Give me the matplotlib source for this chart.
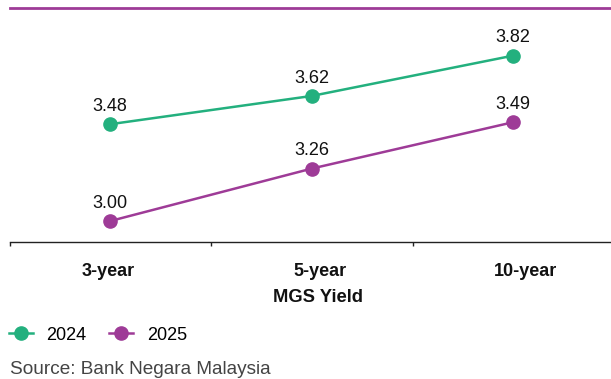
import matplotlib
matplotlib.use("Agg")
import matplotlib.pyplot as plt
from matplotlib.lines import Line2D
from matplotlib.transforms import blended_transform_factory

plt.rcParams['font.family'] = ['Liberation Sans', 'DejaVu Sans']

tenors = ["3-year", "5-year", "10-year"]
years = ["2024", "2025"]
yield_2024 = [3.48, 3.62, 3.82]
yield_2025 = [3.00, 3.26, 3.49]

GREEN = "#23b07e"
PURPLE = "#9e3b97"
INK = "#111111"

W, H = 611, 379
fig = plt.figure(figsize=(W / 100, H / 100), dpi=100)
ax_left, ax_top, ax_bottom = 9.5, 8.4, 242
ax = fig.add_axes([ax_left / W, 1 - ax_bottom / H, (W - ax_left) / W, (ax_bottom - ax_top) / H])

x = list(range(len(tenors)))
for vals, color in ((yield_2024, GREEN), (yield_2025, PURPLE)):
    ax.plot(x, vals, color=color, lw=1.8, marker="o", ms=9.5, zorder=3)
    for xi, v in zip(x, vals):
        ax.annotate(f"{v:.2f}", (xi, v), xytext=(0, 9.6), textcoords="offset points",
                    ha="center", va="baseline", fontsize=13, color=INK)

ax.set_xlim(-0.5, 2.485)
ax.set_ylim(2.896, 4.054)
ax.set_yticks([])
# category boundaries carry the tick marks
ax.set_xticks([i - 0.5 for i in range(len(tenors))])
ax.set_xticklabels([])
ax.tick_params(axis="x", direction="out", length=3, width=1, color="#222222")
for s in ("left", "right"):
    ax.spines[s].set_visible(False)
ax.spines["bottom"].set_color("#222222")
ax.spines["bottom"].set_linewidth(1)
ax.spines["top"].set_color(PURPLE)
ax.spines["top"].set_linewidth(2)

trans = blended_transform_factory(ax.transData, fig.transFigure)
label_shift = [-0.01, 0.04, 0.06]
for xi, name, dx in zip(x, tenors, label_shift):
    ax.text(xi + dx, 1 - 275.5 / H, name, transform=trans, ha="center", va="baseline",
            fontsize=13, fontweight="bold", color=INK)
ax.text(1.03, 1 - 302 / H, "MGS Yield", transform=trans, ha="center", va="baseline",
        fontsize=13.2, fontweight="bold", color=INK)

handles = [Line2D([], [], color=c, lw=1.8, marker="o", ms=9.5) for c in (GREEN, PURPLE)]
fig.legend(handles, years, loc="center left", bbox_to_anchor=(9 / W, 1 - 335 / H),
           ncol=2, frameon=False, fontsize=13, handlelength=1.33, handletextpad=0.75,
           columnspacing=1.25, borderaxespad=0, borderpad=0)

fig.text(10 / W, 1 - 374.5 / H, "Source: Bank Negara Malaysia", ha="left", va="baseline",
         fontsize=13.7, color="#444444")

fig.savefig("out.png", dpi=100)
